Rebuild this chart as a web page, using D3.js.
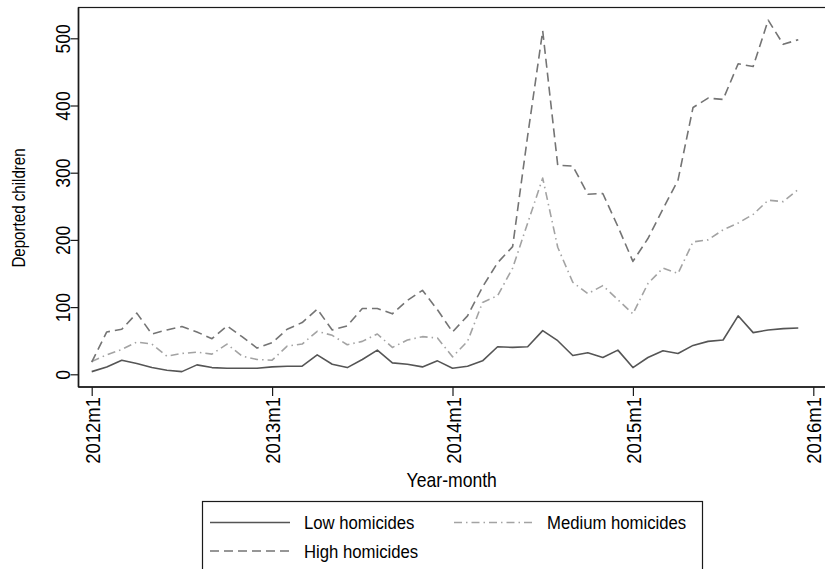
<!DOCTYPE html>
<html>
<head>
<meta charset="utf-8">
<script src="https://cdn.jsdelivr.net/npm/d3@7"></script>
<style>
  html, body { margin: 0; padding: 0; background: #fff; }
  svg { display: block; }
  text { font-family: "Liberation Sans", Arial, Helvetica, sans-serif; fill: #000; }
</style>
</head>
<body>
<svg id="chart" width="825" height="569"></svg>
<script>
// Monthly deported children, 2012m1 .. 2015m12, by municipal homicide level
const lowHomicides = [
  4, 11, 21, 16, 10, 6, 4, 14, 10, 9, 9, 9,
  11, 12, 12, 29, 15, 10, 22, 36, 17, 15, 11, 20,
  9, 12, 20, 41, 40, 41, 65, 50, 28, 32, 25, 36,
  10, 25, 35, 31, 43, 49, 51, 87, 62, 66, 68, 69
];
const mediumHomicides = [
  19, 29, 37, 48, 45, 27, 31, 33, 30, 45, 27, 22,
  21, 42, 45, 64, 58, 44, 49, 60, 40, 51, 56, 54,
  26, 49, 107, 117, 158, 225, 292, 189, 137, 120, 132, 111,
  90, 135, 158, 150, 197, 200, 215, 225, 238, 259, 257, 275
];
const highHomicides = [
  18, 63, 67, 91, 60, 66, 71, 63, 53, 72, 56, 39,
  47, 67, 77, 97, 66, 72, 98, 98, 90, 110, 125, 96,
  63, 87, 130, 166, 190, 355, 511, 311, 310, 268, 269, 220,
  168, 202, 246, 289, 397, 411, 409, 462, 458, 527, 491, 498
];
const xTickMonths = [0, 12, 24, 36, 48];
const xTickLabels = ["2012m1", "2013m1", "2014m1", "2015m1", "2016m1"];
const yTickValues = [0, 100, 200, 300, 400, 500];
const seriesNames = ["Low homicides", "Medium homicides", "High homicides"];

const series = [
  { name: seriesNames[0], values: lowHomicides,    color: "#555555", dash: null,        width: 1.6 },
  { name: seriesNames[1], values: mediumHomicides, color: "#a3a3a3", dash: "8,4,1.5,4", width: 1.6 },
  { name: seriesNames[2], values: highHomicides,   color: "#747474", dash: "9,5",       width: 1.6 }
];

// narrow lettering: glyphs squeezed along the reading direction
const narrow = 0.88;

const svg = d3.select("#chart");

// plot region
const plot = { left: 78.5, top: 7.5, right: 828, bottom: 387 };
const x = d3.scaleLinear().domain([0, 48]).range([91.7, 813.3]);
const y = d3.scaleLinear().domain([0, 500]).range([374.3, 38.3]);

// outline of the plot region (right edge falls outside the canvas)
svg.append("rect")
  .attr("x", plot.left).attr("y", plot.top)
  .attr("width", plot.right - plot.left).attr("height", plot.bottom - plot.top)
  .attr("fill", "none").attr("stroke", "#1a1a1a").attr("stroke-width", 1.2);

// series lines
const line = d3.line().x((d, i) => x(i)).y(d => y(d));
svg.append("g").selectAll("path")
  .data(series)
  .join("path")
  .attr("d", d => line(d.values))
  .attr("fill", "none")
  .attr("stroke", d => d.color)
  .attr("stroke-width", d => d.width)
  .attr("stroke-linejoin", "round")
  .attr("stroke-dasharray", d => d.dash);

// y axis
const yAxis = svg.append("g")
  .attr("transform", `translate(${plot.left},0)`)
  .call(d3.axisLeft(y).tickValues(yTickValues).tickSize(8).tickSizeOuter(0).tickFormat(d3.format("d")));
yAxis.select(".domain").attr("stroke", "#1a1a1a").attr("stroke-width", 1.6)
  .attr("d", `M0,${plot.top}V${plot.bottom}`);
yAxis.selectAll(".tick line").attr("stroke", "#1a1a1a").attr("stroke-width", 1.2);
yAxis.selectAll(".tick text")
  .attr("x", null).attr("dy", "0.36em")
  .attr("transform", `translate(-16,0) rotate(-90) scale(${narrow},1)`)
  .attr("text-anchor", "middle")
  .style("font-size", "20px");

// x axis
const xAxis = svg.append("g")
  .attr("transform", `translate(0,${plot.bottom})`)
  .call(d3.axisBottom(x).tickValues(xTickMonths).tickSize(9).tickSizeOuter(0)
    .tickFormat((d, i) => xTickLabels[i]));
xAxis.select(".domain").attr("stroke", "#1a1a1a").attr("stroke-width", 1.6)
  .attr("d", `M${plot.left},0H${plot.right}`);
xAxis.selectAll(".tick line").attr("stroke", "#1a1a1a").attr("stroke-width", 1.2);
xAxis.selectAll(".tick text")
  .attr("y", null).attr("dy", "0.36em")
  .attr("transform", `translate(0,10) rotate(-90) scale(${narrow},1)`)
  .attr("text-anchor", "end")
  .style("font-size", "21px");

// axis titles
svg.append("text")
  .attr("transform", `translate(25,208) rotate(-90) scale(0.84,1)`)
  .attr("text-anchor", "middle")
  .style("font-size", "18px")
  .text("Deported children");

svg.append("text")
  .attr("transform", `translate(${(plot.left + 825) / 2},487) scale(${narrow},1)`)
  .attr("text-anchor", "middle")
  .style("font-size", "20px")
  .text("Year-month");

// legend
const legend = svg.append("g");
legend.append("rect")
  .attr("x", 202.5).attr("y", 501.5).attr("width", 500).attr("height", 100)
  .attr("fill", "#fff").attr("stroke", "#1a1a1a").attr("stroke-width", 1.2);

const legendPos = [
  { sx: 210, lx: 304, cy: 522.5 },
  { sx: 454, lx: 547, cy: 522.5 },
  { sx: 210, lx: 304, cy: 551 }
];
const items = legend.selectAll("g.item")
  .data(series)
  .join("g")
  .attr("class", "item")
  .attr("transform", (d, i) => `translate(0,${legendPos[i].cy})`);
items.append("line")
  .attr("x1", (d, i) => legendPos[i].sx).attr("x2", (d, i) => legendPos[i].sx + 80)
  .attr("y1", 0).attr("y2", 0)
  .attr("stroke", d => d.color).attr("stroke-width", d => d.width)
  .attr("stroke-dasharray", d => d.dash);
items.append("text")
  .attr("transform", (d, i) => `translate(${legendPos[i].lx},0) scale(${narrow},1)`)
  .attr("dy", "0.36em")
  .style("font-size", "19px")
  .text(d => d.name);
</script>
</body>
</html>
